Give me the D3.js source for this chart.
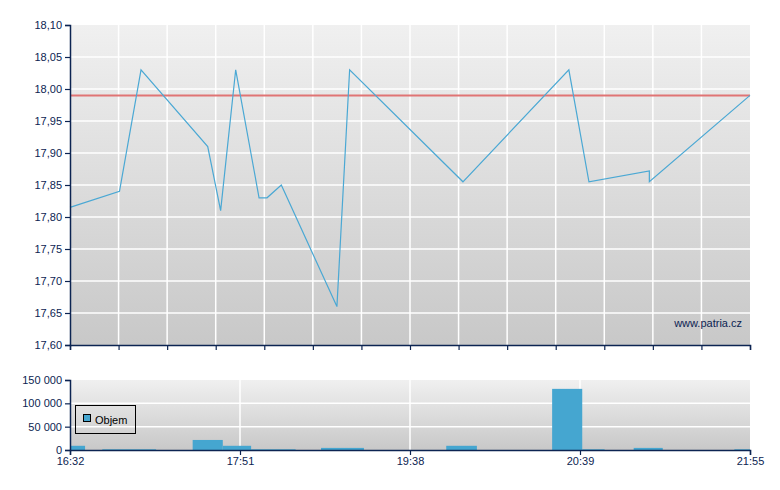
<!DOCTYPE html>
<html>
<head>
<meta charset="utf-8">
<script src="https://cdn.jsdelivr.net/npm/d3@7"></script>
<style>
  body { margin: 0; background: #fff; }
  text { font-family: "Liberation Sans", Arial, sans-serif; }
</style>
</head>
<body>
<div id="chart"></div>
<script>
// axis labels of the time axis (evenly spaced on the chart)
var tickLabels = ["16:32", "17:51", "19:38", "20:39", "21:55"]

// price series
var priceTimes = ["16:32", "16:55", "17:05", "17:36", "17:42", "17:49", "18:03", "18:08", "18:17",
  "18:52", "19:00", "19:57", "20:35", "20:43", "21:10", "21:10", "21:55"]
var prices = [17.815, 17.84, 18.03, 17.91, 17.81, 18.03, 17.83, 17.83, 17.85,
  17.66, 18.03, 17.855, 18.03, 17.855, 17.872, 17.855, 17.99]
var prevClose = 17.99

// volume bars
var volStart = ["16:32", "16:47", "17:29", "17:43", "17:58", "18:42", "19:51", "20:29", "20:40", "21:03", "21:48"]
var volEnd = ["16:39", "17:12", "17:43", "17:58", "18:26", "19:09", "20:02", "20:40", "20:50", "21:16", "21:55"]
var volumes = [9000, 1500, 21500, 9000, 1500, 4500, 9000, 131000, 1500, 4500, 1500]

var priceTicks = [17.60, 17.65, 17.70, 17.75, 17.80, 17.85, 17.90, 17.95, 18.00, 18.05, 18.10]
var volTicks = [0, 50000, 100000, 150000]

var width = 780
var height = 490
var left = 70
var plotW = 680
var priceTop = 25, priceH = 320
var volTop = 380, volH = 70

var navy = "#0c2452"
var parseTime = d3.timeParse("%H:%M")
var locale = d3.formatLocale({ decimal: ",", thousands: "\u00a0", grouping: [3], currency: ["", ""] })
var fmtPrice = locale.format(".2f")
var fmtVol = locale.format(",.0f")

var svg = d3.select("#chart").append("svg")
  .attr("width", width).attr("height", height)

var defs = svg.append("defs")
var grad = defs.append("linearGradient").attr("id", "bg")
  .attr("x1", 0).attr("y1", 0).attr("x2", 0).attr("y2", 1)
grad.append("stop").attr("offset", "0%").attr("stop-color", "#f0f0f0")
grad.append("stop").attr("offset", "100%").attr("stop-color", "#c8c8c8")

// piecewise time scale: labels sit at equal distances
var x = d3.scaleTime()
  .domain(tickLabels.map(parseTime))
  .range(tickLabels.map(function(d, i) { return i * plotW / (tickLabels.length - 1) }))

var gridX = d3.scaleLinear().domain([0, 14]).range([0, plotW])

var y = d3.scaleLinear().domain([17.60, 18.10]).range([priceH, 0])
var yv = d3.scaleLinear().domain([0, 150000]).range([volH, 0])

// ---- price chart
var g = svg.append("g").attr("transform", "translate(" + left + "," + priceTop + ")")

g.append("rect").attr("width", plotW).attr("height", priceH).attr("fill", "url(#bg)")

g.append("g").selectAll("line").data(priceTicks.slice(1, -1)).enter().append("line")
  .attr("x1", 0).attr("x2", plotW)
  .attr("y1", function(d) { return y(d) }).attr("y2", function(d) { return y(d) })
  .attr("stroke", "#fff").attr("stroke-width", 1.5)

g.append("g").selectAll("line").data(d3.range(1, 14)).enter().append("line")
  .attr("y1", 0).attr("y2", priceH)
  .attr("x1", function(d) { return gridX(d) }).attr("x2", function(d) { return gridX(d) })
  .attr("stroke", "#fff").attr("stroke-width", 1.5)

g.append("line")
  .attr("x1", 0).attr("x2", plotW)
  .attr("y1", y(prevClose)).attr("y2", y(prevClose))
  .attr("stroke", "#e07474").attr("stroke-width", 2)

var line = d3.line()
  .x(function(d, i) { return x(parseTime(priceTimes[i])) })
  .y(function(d) { return y(d) })

g.append("path").datum(prices)
  .attr("d", line)
  .attr("fill", "none")
  .attr("stroke", "#4aa8d4")
  .attr("stroke-width", 1.2)

g.append("text")
  .attr("x", plotW - 8).attr("y", priceH - 18)
  .attr("text-anchor", "end")
  .attr("font-size", 11)
  .attr("fill", navy)
  .text("www.patria.cz")

var yAxis = g.append("g")
  .call(d3.axisLeft(y).tickValues(priceTicks).tickFormat(fmtPrice).tickSize(5).tickPadding(3))
var xAxisTop = g.append("g").attr("transform", "translate(0," + priceH + ")")
  .call(d3.axisBottom(gridX).ticks(14).tickFormat("").tickSize(5))

// ---- volume chart
var gv = svg.append("g").attr("transform", "translate(" + left + "," + volTop + ")")

gv.append("rect").attr("width", plotW).attr("height", volH).attr("fill", "url(#bg)")

gv.append("g").selectAll("line").data(volTicks.slice(1, -1)).enter().append("line")
  .attr("x1", 0).attr("x2", plotW)
  .attr("y1", function(d) { return yv(d) }).attr("y2", function(d) { return yv(d) })
  .attr("stroke", "#fff").attr("stroke-width", 1.5)

gv.append("g").selectAll("line").data(tickLabels.slice(1, -1)).enter().append("line")
  .attr("y1", 0).attr("y2", volH)
  .attr("x1", function(d) { return x(parseTime(d)) }).attr("x2", function(d) { return x(parseTime(d)) })
  .attr("stroke", "#fff").attr("stroke-width", 1.5)

gv.append("g").selectAll("rect").data(volumes).enter().append("rect")
  .attr("x", function(d, i) { return x(parseTime(volStart[i])) })
  .attr("width", function(d, i) { return x(parseTime(volEnd[i])) - x(parseTime(volStart[i])) })
  .attr("y", function(d) { return yv(d) })
  .attr("height", function(d) { return volH - yv(d) })
  .attr("fill", "#45a6d0")

var legend = gv.append("g").attr("transform", "translate(5,25)")
legend.append("rect").attr("x", 0.5).attr("y", 0.5).attr("width", 60).attr("height", 28)
  .attr("fill", "none").attr("stroke", "#000")
legend.append("rect").attr("x", 8.5).attr("y", 9.5).attr("width", 7).attr("height", 7)
  .attr("fill", "#45a6d0").attr("stroke", "#000")
legend.append("text").attr("x", 20).attr("y", 18.5)
  .attr("font-size", 11).attr("fill", "#000").text("Objem")

gv.append("g")
  .call(d3.axisLeft(yv).tickValues(volTicks).tickFormat(fmtVol).tickSize(5).tickPadding(3))
gv.append("g").attr("transform", "translate(0," + volH + ")")
  .call(d3.axisBottom(x).tickValues(tickLabels.map(parseTime)).tickFormat(d3.timeFormat("%H:%M")).tickSize(5).tickPadding(2))

svg.selectAll(".domain").attr("stroke", navy).attr("stroke-width", 1.5)
svg.selectAll(".tick line").attr("stroke", navy).attr("stroke-width", 1.2)
svg.selectAll(".tick text").attr("fill", navy).attr("font-size", 11)
  .style("font-family", "'Liberation Sans', Arial, sans-serif")
</script>
</body>
</html>
